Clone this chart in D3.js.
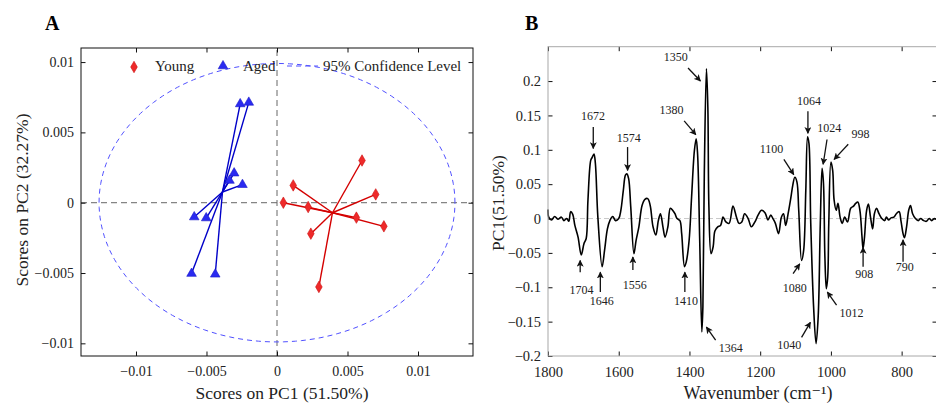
<!DOCTYPE html>
<html lang="en">

<head>
  <meta charset="UTF-8" />
  <title>PCA scores and PC1 loadings</title>
  <script src="https://d3js.org/d3.v7.min.js"></script>
  <style>
    body {
      margin: 0;
      background: #fff;
      font-family: "Liberation Serif", "DejaVu Serif", serif;
    }

    svg text {
      fill: #222;
    }
  </style>
</head>

<body>
  <svg width="936" height="403"></svg>

  <script>
    // ---- panel A: PCA scores (PC1, PC2) ----
    const youngPC1 = [0.00603, 0.00115, 0.0070, 0.00045, 0.00221, 0.00563, 0.00758, 0.0024, 0.00297];
    const youngPC2 = [0.0030, 0.00123, 0.00059, 0.0, -0.00031, -0.00106, -0.00168, -0.0022, -0.00599];
    const agedPC1 = [-0.00261, -0.0020, -0.00304, -0.00337, -0.00245, -0.00587, -0.00502, -0.00606, -0.00438];
    const agedPC2 = [0.00702, 0.00713, 0.0021, 0.00158, 0.00128, -0.00102, -0.00109, -0.00504, -0.00509];
    const ellipseRadii = [0.01262, 0.0099]; // 95% confidence level
    const scoreTicks = [-0.01, -0.005, 0, 0.005, 0.01];

    // ---- panel B: PC1 loadings vs wavenumber ----
    const wavenumber = [1800, 1798, 1790, 1781, 1772, 1762, 1755, 1747, 1741, 1736, 1730, 1724, 1715, 1706, 1698, 1692,
      1687, 1679, 1675, 1670, 1666, 1659, 1647, 1640, 1632, 1625, 1617, 1609, 1600, 1594, 1587, 1581, 1577, 1572, 1566,
      1557, 1551, 1543, 1534, 1526, 1518, 1511, 1503, 1495, 1488, 1482, 1475, 1469, 1461, 1454, 1446, 1441, 1435, 1427,
      1422, 1414, 1409, 1401, 1394, 1386, 1381, 1377, 1371, 1365, 1362, 1358, 1352, 1348, 1345, 1339, 1333, 1328, 1320,
      1312, 1305, 1297, 1288, 1277, 1267, 1260, 1252, 1244, 1234, 1225, 1214, 1206, 1196, 1186, 1178, 1170, 1164, 1157,
      1148, 1140, 1134, 1128, 1121, 1113, 1108, 1102, 1096, 1091, 1083, 1077, 1071, 1066, 1062, 1057, 1049, 1042, 1036,
      1030, 1025, 1021, 1017, 1013, 1009, 1006, 1000, 995, 991, 985, 980, 974, 968, 961, 953, 944, 936, 930, 924, 918,
      912, 909, 905, 899, 894, 888, 882, 877, 871, 864, 856, 848, 843, 837, 830, 822, 815, 807, 802, 796, 792, 786, 780,
      775, 769, 761, 753, 746, 738, 730, 722, 715, 707, 700];
    const pc1Loading = [0.013, 0.002, -0.002, 0.003, -0.001, 0.002, -0.003, 0.000, -0.004, 0.010, 0.006, -0.010, -0.027,
      -0.053, -0.036, -0.029, 0.027, 0.085, 0.089, 0.094, 0.080, 0.002, -0.070, -0.046, -0.015, -0.003, 0.003, -0.003,
      0.000, 0.012, 0.041, 0.063, 0.065, 0.058, 0.017, -0.051, -0.032, -0.012, 0.019, 0.028, 0.029, 0.019, -0.012,
      -0.024, -0.003, 0.007, -0.012, -0.027, -0.012, 0.015, 0.011, 0.007, 0.000, -0.003, -0.022, -0.070, -0.063, -0.032,
      0.031, 0.099, 0.116, 0.094, -0.032, -0.165, -0.128, 0.065, 0.218, 0.162, 0.017, -0.051, -0.041, -0.018, -0.012,
      -0.010, 0.002, -0.005, -0.007, 0.018, 0.002, -0.007, -0.005, 0.007, 0.000, -0.012, -0.004, 0.005, 0.012, 0.008,
      -0.002, 0.005, 0.000, -0.007, -0.022, 0.002, 0.007, -0.010, 0.007, 0.031, 0.048, 0.060, 0.053, 0.012, -0.061,
      -0.046, 0.041, 0.119, 0.109, -0.007, -0.128, -0.182, -0.143, -0.007, 0.073, 0.051, -0.056, -0.102, -0.085, -0.007,
      0.082, 0.070, 0.027, 0.012, 0.022, 0.002, -0.007, 0.002, -0.005, 0.015, 0.018, 0.022, 0.024, 0.012, -0.027, -0.044,
      -0.027, 0.012, 0.021, 0.002, -0.015, 0.007, 0.015, 0.007, 0.000, -0.003, 0.002, -0.002, 0.001, 0.002, 0.007, 0.010,
      -0.003, -0.022, -0.028, -0.012, 0.012, 0.019, 0.007, 0.000, -0.003, 0.000, -0.003, -0.004, 0.000, -0.003, 0.000,
      -0.002];
    const wnTicks = [1800, 1600, 1400, 1200, 1000, 800];
    const loadTicks = [-0.2, -0.15, -0.1, -0.05, 0, 0.05, 0.1, 0.15, 0.2];

    // peak labels: [text, tip wn, tip value, tail wn, tail value, label wn, label value]
    const peakLabels = [
      ["1672", 1672, 0.102, 1672, 0.133, 1673, 0.149],
      ["1574", 1575, 0.070, 1575, 0.104, 1572, 0.118],
      ["1380", 1382, 0.122, 1415, 0.142, 1451, 0.158],
      ["1350", 1369, 0.200, 1404, 0.219, 1439, 0.235],
      ["1100", 1105, 0.064, 1133, 0.086, 1168, 0.101],
      ["1064", 1065, 0.124, 1065, 0.156, 1062, 0.172],
      ["1024", 1022, 0.079, 1011, 0.115, 1005, 0.132],
      ["998", 991, 0.086, 951, 0.108, 916, 0.124],
      ["1704", 1709, -0.061, 1709, -0.078, 1705, -0.103],
      ["1646", 1652, -0.078, 1652, -0.107, 1648, -0.120],
      ["1556", 1560, -0.056, 1560, -0.075, 1555, -0.097],
      ["1410", 1413, -0.078, 1413, -0.107, 1410, -0.119],
      ["1364", 1352, -0.158, 1326, -0.177, 1283, -0.188],
      ["1080", 1088, -0.066, 1107, -0.080, 1102, -0.101],
      ["1040", 1058, -0.151, 1083, -0.173, 1118, -0.183],
      ["1012", 1010, -0.107, 984, -0.126, 942, -0.137],
      ["908", 909, -0.042, 909, -0.070, 906, -0.081],
      ["790", 796, -0.031, 796, -0.063, 791, -0.070]
    ];

    const svg = d3.select("svg");
    const minus = d => d === 0 ? "0" : String(d).replace("-", "\u2212");

    // arrowhead marker
    svg.append("defs").append("marker")
      .attr("id", "arrow")
      .attr("viewBox", "0 0 10 10")
      .attr("refX", 9).attr("refY", 5)
      .attr("markerWidth", 7).attr("markerHeight", 7)
      .attr("markerUnits", "userSpaceOnUse")
      .attr("orient", "auto")
      .append("path")
      .attr("d", "M0,0L10,5L0,10L2.5,5Z")
      .attr("fill", "#111");

    function inwardAxes(g, x, y, xt, yt, frameColor, fs) {
      const [x0, x1] = x.range();
      const [y0, y1] = y.range();
      const axes = [
        [d3.axisBottom(x).tickValues(xt).tickFormat(minus), `translate(0,${y0})`, true],
        [d3.axisTop(x).tickValues(xt).tickFormat(""), `translate(0,${y1})`, false],
        [d3.axisLeft(y).tickValues(yt).tickFormat(minus), `translate(${x0},0)`, true],
        [d3.axisRight(y).tickValues(yt).tickFormat(""), `translate(${x1},0)`, false]
      ];
      axes.forEach(([ax, tr, lab], i) => {
        const a = g.append("g").attr("transform", tr)
          .call(ax.tickSizeInner(-4.5).tickSizeOuter(0).tickPadding(lab ? 7 : 0));
        a.select(".domain").remove();
        a.selectAll("line").attr("stroke", "#111");
        a.selectAll("text").attr("font-family", "Liberation Serif, serif")
          .attr("font-size", fs).attr("fill", "#222");
        if (i === 0) a.selectAll("text").attr("dy", "0.95em");
      });
      g.append("rect")
        .attr("x", x0).attr("y", y1)
        .attr("width", x1 - x0).attr("height", y0 - y1)
        .attr("fill", "none").attr("stroke", frameColor).attr("stroke-width", 1);
    }

    // ================= Panel A =================
    const xA = d3.scaleLinear().domain([-0.0139, 0.0139]).range([81, 473]);
    const yA = d3.scaleLinear().domain([-0.0109, 0.011]).range([356, 48]);
    const gA = svg.append("g");

    // zero reference lines
    gA.append("line")
      .attr("x1", xA(-0.0139)).attr("x2", xA(0.0139))
      .attr("y1", yA(0)).attr("y2", yA(0))
      .attr("stroke", "#666").attr("stroke-dasharray", "6,4");
    gA.append("line")
      .attr("x1", xA(0)).attr("x2", xA(0))
      .attr("y1", yA(-0.0109)).attr("y2", yA(0.011))
      .attr("stroke", "#666").attr("stroke-dasharray", "6,4");

    // confidence ellipse
    const ell = d3.range(0, 2 * Math.PI + 0.001, Math.PI / 90)
      .map(t => [xA(ellipseRadii[0] * Math.cos(t)), yA(ellipseRadii[1] * Math.sin(t))]);
    gA.append("path")
      .attr("d", d3.line()(ell))
      .attr("fill", "none").attr("stroke", "#5050ff")
      .attr("stroke-width", 1).attr("stroke-dasharray", "5,4");

    const groups = [
      { xs: youngPC1, ys: youngPC2, line: "#d40000", fill: "#ee2a2a", stroke: "#cc1111", sym: d3.symbolDiamond, size: 38 },
      { xs: agedPC1, ys: agedPC2, line: "#0000c8", fill: "#2a2af0", stroke: "#1818c8", sym: d3.symbolTriangle, size: 40 }
    ];
    groups.forEach(gr => {
      const cx = d3.mean(gr.xs), cy = d3.mean(gr.ys);
      gr.xs.forEach((v, i) => {
        gA.append("line")
          .attr("x1", xA(cx)).attr("y1", yA(cy))
          .attr("x2", xA(v)).attr("y2", yA(gr.ys[i]))
          .attr("stroke", gr.line).attr("stroke-width", 1.4);
      });
      gr.xs.forEach((v, i) => {
        gA.append("path")
          .attr("d", d3.symbol(gr.sym, gr.size)())
          .attr("transform", `translate(${xA(v)},${yA(gr.ys[i])})`)
          .attr("fill", gr.fill).attr("stroke", gr.stroke).attr("stroke-width", 0.6);
      });
    });

    inwardAxes(gA, xA, yA, scoreTicks, scoreTicks, "#111", "14px");

    // legend
    const leg = gA.append("g").attr("font-size", "15px");
    leg.append("path").attr("d", d3.symbol(d3.symbolDiamond, 38)())
      .attr("transform", "translate(134,67)").attr("fill", "#ee2a2a").attr("stroke", "#cc1111").attr("stroke-width", 0.6);
    leg.append("text").attr("x", 155).attr("y", 71).text("Young");
    leg.append("path").attr("d", d3.symbol(d3.symbolTriangle, 40)())
      .attr("transform", "translate(223,66)").attr("fill", "#2a2af0").attr("stroke", "#1818c8").attr("stroke-width", 0.6);
    leg.append("text").attr("x", 243).attr("y", 71).text("Aged");
    leg.append("line").attr("x1", 287).attr("x2", 318).attr("y1", 66).attr("y2", 66)
      .attr("stroke", "#5050ff").attr("stroke-width", 1).attr("stroke-dasharray", "5,4");
    leg.append("text").attr("x", 323).attr("y", 71).text("95% Confidence Level");

    gA.append("text").attr("x", 282).attr("y", 399).attr("text-anchor", "middle")
      .attr("font-size", "17.5px").text("Scores on PC1 (51.50%)");
    gA.append("text").attr("transform", "translate(28,200) rotate(-90)").attr("text-anchor", "middle")
      .attr("font-size", "17.5px").text("Scores on PC2 (32.27%)");
    gA.append("text").attr("x", 45).attr("y", 30).attr("font-size", "20px")
      .attr("font-weight", "bold").style("fill", "#000").text("A");

    // ================= Panel B =================
    const xB = d3.scaleLinear().domain([1800, 700]).range([548, 937]);
    const yB = d3.scaleLinear().domain([-0.2, 0.25]).range([356, 46.7]);
    const gB = svg.append("g");

    gB.append("line")
      .attr("x1", xB(1800)).attr("x2", xB(700))
      .attr("y1", yB(0)).attr("y2", yB(0))
      .attr("stroke", "#c8c8c8").attr("stroke-dasharray", "5,3");

    const spectrum = wavenumber.map((w, i) => [w, pc1Loading[i]]);
    gB.append("path")
      .datum(spectrum)
      .attr("d", d3.line().x(d => xB(d[0])).y(d => yB(d[1])).curve(d3.curveCatmullRom.alpha(0.5)))
      .attr("fill", "none").attr("stroke", "#000").attr("stroke-width", 1.6)
      .attr("stroke-linejoin", "round");

    inwardAxes(gB, xB, yB, wnTicks, loadTicks, "#a8a8a8", "14.5px");

    peakLabels.forEach(p => {
      gB.append("line")
        .attr("x1", xB(p[3])).attr("y1", yB(p[4]))
        .attr("x2", xB(p[1])).attr("y2", yB(p[2]))
        .attr("stroke", "#111").attr("stroke-width", 1.3)
        .attr("marker-end", "url(#arrow)");
      gB.append("text")
        .attr("x", xB(p[5])).attr("y", yB(p[6]))
        .attr("dy", "0.35em").attr("text-anchor", "middle")
        .attr("font-size", "12px").text(p[0]);
    });

    gB.append("text").attr("x", 758).attr("y", 399).attr("text-anchor", "middle")
      .attr("font-size", "18px").text("Wavenumber (cm\u207B\u00B9)");
    gB.append("text").attr("transform", "translate(504,203) rotate(-90)").attr("text-anchor", "middle")
      .attr("font-size", "17.5px").text("PC1(51.50%)");
    gB.append("text").attr("x", 525).attr("y", 30).attr("font-size", "20px")
      .attr("font-weight", "bold").style("fill", "#000").text("B");
  </script>
</body>

</html>
